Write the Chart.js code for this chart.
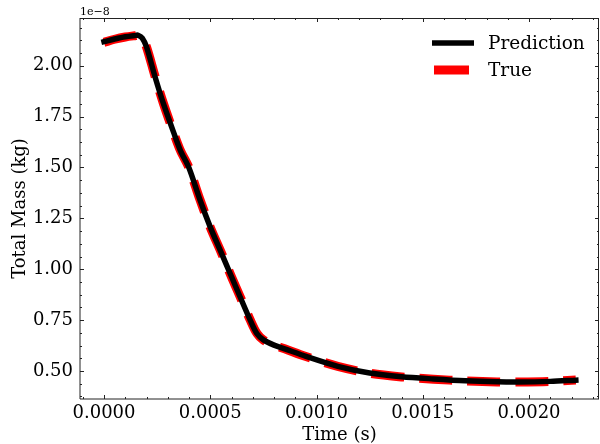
<!DOCTYPE html>
<html>
<head>
<meta charset="utf-8">
<script src="https://cdn.jsdelivr.net/npm/chart.js@4"></script>
<style>
  body { margin: 0; background: #fff; }
</style>
</head>
<body>
<canvas id="chart" width="600" height="444"></canvas>
<script>
'use strict';

// time in seconds, mass in units of 1e-8 kg
const times = [0, 0.00005, 0.0001, 0.00015, 0.00016, 0.00018, 0.0002, 0.00024, 0.00028, 0.00033, 0.00036,
  0.0004, 0.00045, 0.0005, 0.00055, 0.0006, 0.00064, 0.00069, 0.00072, 0.00075, 0.0008, 0.00085,
  0.00095, 0.0011, 0.00125, 0.0014, 0.00155, 0.0017, 0.00185, 0.00195, 0.0021, 0.00222];
const predicted = [2.118, 2.131, 2.142, 2.149, 2.150, 2.136, 2.092, 1.946, 1.812, 1.665, 1.582,
  1.497, 1.345, 1.207, 1.085, 0.963, 0.865, 0.745, 0.683, 0.653, 0.627, 0.609,
  0.572, 0.523, 0.490, 0.472, 0.461, 0.452, 0.447, 0.446, 0.449, 0.455];
const actual = [2.115, 2.130, 2.141, 2.148, 2.149, 2.135, 2.092, 1.948, 1.813, 1.664, 1.582,
  1.498, 1.346, 1.206, 1.086, 0.962, 0.866, 0.746, 0.684, 0.652, 0.627, 0.609,
  0.571, 0.523, 0.489, 0.471, 0.460, 0.451, 0.446, 0.446, 0.449, 0.456];
const xTicks = [0, 0.0005, 0.001, 0.0015, 0.002];
const yTicks = [0.5, 0.75, 1.0, 1.25, 1.5, 1.75, 2.0];
const offsetLabel = '1e\u22128';

const serif = "'DejaVu Serif', serif";

const toPoints = ys => times.map((t, i) => ({ x: t, y: ys[i] }));

// matplotlib-like frame, inward ticks and legend
const framePlugin = {
  id: 'frame',
  afterDraw(chart) {
    const ctx = chart.ctx;
    const a = chart.chartArea;
    const xs = chart.scales.x;
    const ys = chart.scales.y;
    ctx.save();
    ctx.strokeStyle = '#222';
    ctx.lineWidth = 1;
    ctx.beginPath();
    ctx.moveTo(a.left, a.top + 0.5); ctx.lineTo(a.right, a.top + 0.5);
    ctx.moveTo(a.left, a.top); ctx.lineTo(a.left, a.bottom);
    ctx.moveTo(a.left, a.bottom); ctx.lineTo(a.right, a.bottom);
    ctx.moveTo(a.right - 0.5, a.top); ctx.lineTo(a.right - 0.5, a.bottom);
    ctx.stroke();

    ctx.beginPath();
    for (let i = -1; i <= 23; i++) {
      const v = i * 0.0001;
      const px = Math.round(xs.getPixelForValue(v)) + 0.5;
      if (px < a.left || px > a.right) continue;
      const len = i % 5 === 0 ? 4 : 2;
      ctx.moveTo(px, a.bottom); ctx.lineTo(px, a.bottom - len);
      ctx.moveTo(px, a.top); ctx.lineTo(px, a.top + len);
    }
    for (let i = 6; i <= 35; i++) {
      const v = i * 0.0625;
      const py = Math.round(ys.getPixelForValue(v)) + 0.5;
      if (py < a.top || py > a.bottom) continue;
      const len = i % 4 === 0 ? 4 : 2;
      ctx.moveTo(a.left, py); ctx.lineTo(a.left + len, py);
      ctx.moveTo(a.right, py); ctx.lineTo(a.right - len, py);
    }
    ctx.stroke();

    // offset text
    ctx.fillStyle = '#000';
    ctx.font = '11px ' + serif;
    ctx.textAlign = 'left';
    ctx.textBaseline = 'alphabetic';
    ctx.fillText(offsetLabel, a.left, 15);

    // legend
    const items = chart.data.datasets;
    const rows = [43, 70];
    items.forEach((ds, i) => {
      const y = rows[i];
      ctx.beginPath();
      ctx.lineCap = 'butt';
      ctx.setLineDash([]);
      ctx.strokeStyle = ds.borderColor;
      ctx.lineWidth = ds.borderWidth;
      if (i === 0) { ctx.moveTo(432, y); ctx.lineTo(474, y); }
      else { ctx.moveTo(434, y); ctx.lineTo(469, y); }
      ctx.stroke();
      ctx.fillStyle = '#000';
      ctx.font = '18.5px ' + serif;
      ctx.textBaseline = 'middle';
      ctx.fillText(ds.label, 488, y + 1);
    });
    ctx.restore();
  }
};

new Chart(document.getElementById('chart'), {
  type: 'line',
  data: {
    datasets: [
      {
        label: 'Prediction',
        data: toPoints(predicted),
        borderColor: '#000000',
        borderWidth: 5.5,
        borderCapStyle: 'square',
        pointRadius: 0,
        tension: 0.3,
        fill: false,
      },
      {
        label: 'True',
        data: toPoints(actual),
        borderColor: '#ff0000',
        borderWidth: 9,
        borderDash: [33, 15],
        borderCapStyle: 'butt',
        pointRadius: 0,
        tension: 0.3,
        fill: false,
      },
    ],
  },
  options: {
    responsive: false,
    animation: false,
    layout: { padding: { top: 18, right: 1, left: 0, bottom: 0 } },
    plugins: { legend: { display: false }, tooltip: { enabled: false } },
    scales: {
      x: {
        type: 'linear',
        min: -0.000113,
        max: 0.002329,
        afterBuildTicks: s => { s.ticks = xTicks.map(v => ({ value: v })); },
        afterFit: s => { s.height = 45; },
        grid: { display: false, drawTicks: false },
        border: { display: false },
        ticks: {
          autoSkip: false, maxRotation: 0, padding: 4, color: '#000',
          font: { family: serif, size: 18 },
          callback: v => v.toFixed(4),
        },
        title: {
          display: true, text: 'Time (s)', color: '#000', padding: 0,
          font: { family: serif, size: 18, lineHeight: 1 },
        },
      },
      y: {
        type: 'linear',
        min: 0.3624,
        max: 2.2344,
        afterBuildTicks: s => { s.ticks = yTicks.map(v => ({ value: v })); },
        afterFit: s => { s.width = 80; },
        grid: { display: false, drawTicks: false },
        border: { display: false },
        ticks: {
          autoSkip: false, padding: 7, color: '#000',
          font: { family: serif, size: 18 },
          callback: v => v.toFixed(2),
        },
        title: {
          display: true, text: 'Total Mass (kg)', color: '#000', padding: { top: 11 },
          font: { family: serif, size: 18, lineHeight: 1 },
        },
      },
    },
  },
  plugins: [framePlugin],
});
</script>
</body>
</html>
